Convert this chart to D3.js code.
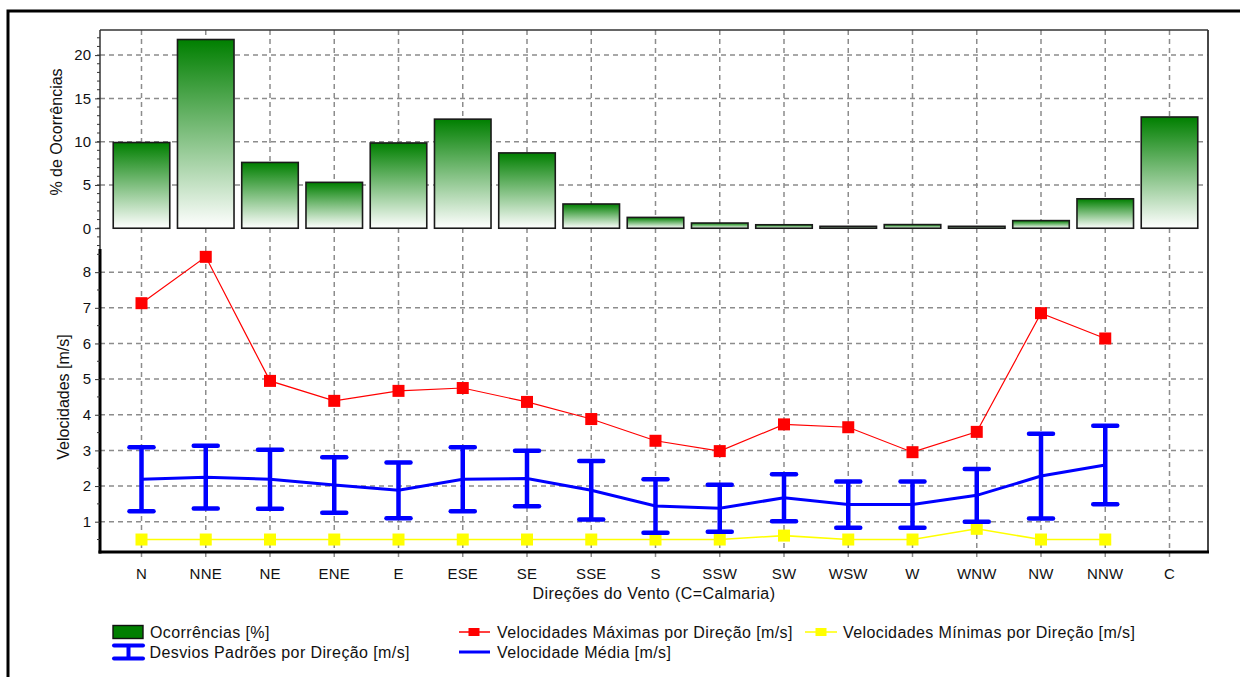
<!DOCTYPE html>
<html>
<head>
<meta charset="utf-8">
<script src="https://cdn.jsdelivr.net/npm/d3@7"></script>
<style>
  html, body { margin: 0; padding: 0; background: #fff; }
  svg { display: block; font-family: "Liberation Sans", Arial, sans-serif; }
</style>
</head>
<body>
<svg id="chart" width="1240" height="677"></svg>
<script>
// Wind directions (C = calm)
const directions = ["N","NNE","NE","ENE","E","ESE","SE","SSE","S","SSW","SW","WSW","W","WNW","NW","NNW","C"];
// Occurrence of each direction [%]
const occurrences = [9.9, 21.8, 7.6, 5.3, 9.85, 12.6, 8.7, 2.8, 1.25, 0.6, 0.4, 0.22, 0.42, 0.22, 0.88, 3.4, 12.85];
// Maximum speed by direction [m/s]
const maxSpeed = [7.13, 8.43, 4.95, 4.39, 4.67, 4.75, 4.36, 3.88, 3.27, 2.98, 3.73, 3.65, 2.95, 3.52, 6.85, 6.14, null];
// Minimum speed by direction [m/s]
const minSpeed = [0.5, 0.5, 0.5, 0.5, 0.5, 0.5, 0.5, 0.5, 0.5, 0.5, 0.61, 0.5, 0.5, 0.8, 0.5, 0.5, null];
// Mean speed by direction [m/s]
const meanSpeed = [2.19, 2.25, 2.19, 2.03, 1.88, 2.19, 2.21, 1.88, 1.44, 1.38, 1.67, 1.48, 1.48, 1.74, 2.28, 2.59, null];
// Standard deviation by direction [m/s]
const stdSpeed = [0.90, 0.88, 0.83, 0.78, 0.78, 0.90, 0.78, 0.82, 0.75, 0.66, 0.66, 0.65, 0.65, 0.74, 1.19, 1.10, null];
// Axis ticks
const occTicks = [0, 5, 10, 15, 20];
const speedTicks = [1, 2, 3, 4, 5, 6, 7, 8];

const svg = d3.select("#chart");

// Panel geometry
const left = 100, right = 1208;
const topY0 = 30, topY1 = 249;      // occurrences panel
const botY0 = 249, botY1 = 552;     // speeds panel

const x = d3.scalePoint().domain(directions).range([141.5, 1169.5]);
const step = x.step();
const yOcc = d3.scaleLinear().domain([-2.4, 22.9]).range([topY1, topY0]);
const ySpd = d3.scaleLinear().domain([0.15, 8.65]).range([botY1, botY0]);

const gridColor = "#8c8c8c";
const dash = "5,4";
const wideText = 0.4;   // letter spacing for titles and legend

// Outer frame
svg.append("path")
  .attr("d", `M8,700 L8,11 L1260,11`)
  .attr("fill", "none").attr("stroke", "#000").attr("stroke-width", 3);

// Bar gradient
const defs = svg.append("defs");
const grad = defs.append("linearGradient").attr("id", "barFill")
  .attr("x1", 0).attr("y1", 0).attr("x2", 0).attr("y2", 1);
grad.append("stop").attr("offset", "0%").attr("stop-color", "#007f00");
grad.append("stop").attr("offset", "100%").attr("stop-color", "#ffffff");

// ---------- Grids ----------
const grid = svg.append("g");
// vertical gridlines across both panels + ticks below the x axis
grid.selectAll("line.v").data(directions).join("line")
  .attr("x1", d => x(d)).attr("x2", d => x(d))
  .attr("y1", topY0).attr("y2", botY1 + 7)
  .attr("stroke", gridColor).attr("stroke-width", 1.5).attr("stroke-dasharray", dash);
// horizontal gridlines, occurrences panel
grid.selectAll("line.ho").data(occTicks.filter(d => d > 0)).join("line")
  .attr("x1", left).attr("x2", right)
  .attr("y1", d => yOcc(d)).attr("y2", d => yOcc(d))
  .attr("stroke", gridColor).attr("stroke-width", 1.5).attr("stroke-dasharray", dash);
// horizontal gridlines, speed panel
grid.selectAll("line.hs").data(speedTicks).join("line")
  .attr("x1", left).attr("x2", right)
  .attr("y1", d => ySpd(d)).attr("y2", d => ySpd(d))
  .attr("stroke", gridColor).attr("stroke-width", 1.5).attr("stroke-dasharray", dash);

// ---------- Occurrence bars ----------
const barW = step * 0.88;
svg.append("g").selectAll("rect").data(directions).join("rect")
  .attr("x", d => x(d) - barW / 2)
  .attr("width", barW)
  .attr("y", (d, i) => yOcc(occurrences[i]))
  .attr("height", (d, i) => Math.max(0.5, yOcc(0) - yOcc(occurrences[i])))
  .attr("fill", "url(#barFill)")
  .attr("stroke", "#1a1a1a").attr("stroke-width", 1.6);

// ---------- Panel borders ----------
svg.append("line").attr("x1", left).attr("x2", right).attr("y1", topY0).attr("y2", topY0)
  .attr("stroke", "#333").attr("stroke-width", 1.5);
svg.append("line").attr("x1", right).attr("x2", right).attr("y1", topY0).attr("y2", botY1)
  .attr("stroke", "#333").attr("stroke-width", 1.8);
svg.append("line").attr("x1", left).attr("x2", left).attr("y1", topY0).attr("y2", botY0)
  .attr("stroke", "#333").attr("stroke-width", 1.5);
svg.append("line").attr("x1", left).attr("x2", left).attr("y1", botY0).attr("y2", botY1 + 1.5)
  .attr("stroke", "#000").attr("stroke-width", 3);
svg.append("line").attr("x1", left - 1.5).attr("x2", right + 1).attr("y1", botY1).attr("y2", botY1)
  .attr("stroke", "#000").attr("stroke-width", 3);

// ---------- Y axes ----------
const axisOcc = d3.axisLeft(yOcc).tickValues(occTicks).tickSize(5).tickPadding(4);
const gOcc = svg.append("g").attr("transform", `translate(${left},0)`).call(axisOcc);
// minor ticks every unit
gOcc.selectAll("line.minor").data(d3.range(-2, 23)).join("line").attr("class", "minor")
  .attr("x1", -3).attr("x2", 0).attr("y1", d => yOcc(d)).attr("y2", d => yOcc(d))
  .attr("stroke", "#333");

const axisSpd = d3.axisLeft(ySpd).tickValues(speedTicks).tickSize(5).tickPadding(4);
const gSpd = svg.append("g").attr("transform", `translate(${left},0)`).call(axisSpd);
gSpd.selectAll("line.minor").data(d3.range(0.5, 8.6, 1)).join("line").attr("class", "minor")
  .attr("x1", -3).attr("x2", 0).attr("y1", d => ySpd(d)).attr("y2", d => ySpd(d))
  .attr("stroke", "#333");

[gOcc, gSpd].forEach(g => {
  g.select(".domain").remove();
  g.selectAll(".tick line").attr("stroke", "#333");
  g.selectAll(".tick text").attr("font-size", 15).attr("fill", "#111")
    .attr("font-family", "'Liberation Sans', Arial, sans-serif");
});

// X tick labels
svg.append("g").selectAll("text").data(directions).join("text")
  .attr("x", d => x(d)).attr("y", 578.5)
  .attr("text-anchor", "middle").attr("font-size", 15).attr("fill", "#111")
  .attr("letter-spacing", 0.2)
  .text(d => d);

// Axis titles
svg.append("text").attr("x", 654).attr("y", 599)
  .attr("text-anchor", "middle").attr("font-size", 16).attr("fill", "#111")
  .attr("letter-spacing", wideText)
  .text("Direções do Vento (C=Calmaria)");
svg.append("text").attr("transform", "translate(62,132) rotate(-90)")
  .attr("text-anchor", "middle").attr("font-size", 16).attr("fill", "#111")
  .text("% de Ocorrências");
svg.append("text").attr("transform", "translate(69,397) rotate(-90)")
  .attr("text-anchor", "middle").attr("font-size", 16).attr("fill", "#111")
  .text("Velocidades [m/s]");

// ---------- Speed series ----------
const idx = d3.range(directions.length);
const lineOf = arr => d3.line()
  .defined(i => arr[i] != null)
  .x(i => x(directions[i]))
  .y(i => ySpd(arr[i]));

const mk = 12;
// maximum speeds
svg.append("path").datum(idx).attr("d", lineOf(maxSpeed))
  .attr("fill", "none").attr("stroke", "#ff0000").attr("stroke-width", 1.2);
svg.append("g").selectAll("rect").data(idx.filter(i => maxSpeed[i] != null)).join("rect")
  .attr("x", i => x(directions[i]) - mk / 2).attr("y", i => ySpd(maxSpeed[i]) - mk / 2)
  .attr("width", mk).attr("height", mk).attr("fill", "#ff0000");

// minimum speeds
svg.append("path").datum(idx).attr("d", lineOf(minSpeed))
  .attr("fill", "none").attr("stroke", "#ffff00").attr("stroke-width", 1.6);
svg.append("g").selectAll("rect").data(idx.filter(i => minSpeed[i] != null)).join("rect")
  .attr("x", i => x(directions[i]) - mk / 2).attr("y", i => ySpd(minSpeed[i]) - mk / 2)
  .attr("width", mk).attr("height", mk).attr("fill", "#ffff00");

// standard deviation bars
const errIdx = idx.filter(i => meanSpeed[i] != null);
const eb = svg.append("g").attr("stroke", "#0000ff").attr("stroke-linecap", "round");
eb.selectAll("line.stem").data(errIdx).join("line")
  .attr("x1", i => x(directions[i])).attr("x2", i => x(directions[i]))
  .attr("y1", i => ySpd(meanSpeed[i] + stdSpeed[i])).attr("y2", i => ySpd(meanSpeed[i] - stdSpeed[i]))
  .attr("stroke-width", 4.5).attr("stroke-linecap", "butt");
[1, -1].forEach(sgn => {
  eb.selectAll(null).data(errIdx).join("line")
    .attr("x1", i => x(directions[i]) - 12).attr("x2", i => x(directions[i]) + 12)
    .attr("y1", i => ySpd(meanSpeed[i] + sgn * stdSpeed[i]))
    .attr("y2", i => ySpd(meanSpeed[i] + sgn * stdSpeed[i]))
    .attr("stroke-width", 4.5);
});

// mean speed
svg.append("path").datum(idx).attr("d", lineOf(meanSpeed))
  .attr("fill", "none").attr("stroke", "#0000ff").attr("stroke-width", 3);

// ---------- Legend ----------
const lg = svg.append("g").attr("font-size", 16).attr("fill", "#111").attr("letter-spacing", wideText);
// Ocorrências
lg.append("rect").attr("x", 113).attr("y", 625.5).attr("width", 30).attr("height", 13)
  .attr("fill", "#007f00").attr("stroke", "#111").attr("stroke-width", 1.4);
lg.append("text").attr("x", 150).attr("y", 632).attr("dy", "0.35em").text("Ocorrências [%]");
// Desvios
const dv = lg.append("g").attr("stroke", "#0000ff").attr("stroke-width", 4).attr("stroke-linecap", "round");
dv.append("line").attr("x1", 114).attr("x2", 143).attr("y1", 645.5).attr("y2", 645.5);
dv.append("line").attr("x1", 114).attr("x2", 143).attr("y1", 658.5).attr("y2", 658.5);
dv.append("line").attr("x1", 128.5).attr("x2", 128.5).attr("y1", 645.5).attr("y2", 658.5).attr("stroke-linecap", "butt");
lg.append("text").attr("x", 149.5).attr("y", 652).attr("dy", "0.35em").text("Desvios Padrões por Direção [m/s]");
// Máximas
lg.append("line").attr("x1", 459).attr("x2", 490).attr("y1", 632).attr("y2", 632)
  .attr("stroke", "#ff0000").attr("stroke-width", 1.5);
lg.append("rect").attr("x", 468.5).attr("y", 628).attr("width", 11).attr("height", 8).attr("fill", "#ff0000");
lg.append("text").attr("x", 497).attr("y", 632).attr("dy", "0.35em").text("Velocidades Máximas por Direção [m/s]");
// Média
lg.append("line").attr("x1", 459).attr("x2", 490).attr("y1", 652).attr("y2", 652)
  .attr("stroke", "#0000ff").attr("stroke-width", 3);
lg.append("text").attr("x", 497).attr("y", 652).attr("dy", "0.35em").text("Velocidade Média [m/s]");
// Mínimas
lg.append("line").attr("x1", 805).attr("x2", 837).attr("y1", 632).attr("y2", 632)
  .attr("stroke", "#ffff00").attr("stroke-width", 1.5);
lg.append("rect").attr("x", 815.5).attr("y", 628).attr("width", 11).attr("height", 8).attr("fill", "#ffff00");
lg.append("text").attr("x", 843).attr("y", 632).attr("dy", "0.35em").text("Velocidades Mínimas por Direção [m/s]");
</script>
</body>
</html>
